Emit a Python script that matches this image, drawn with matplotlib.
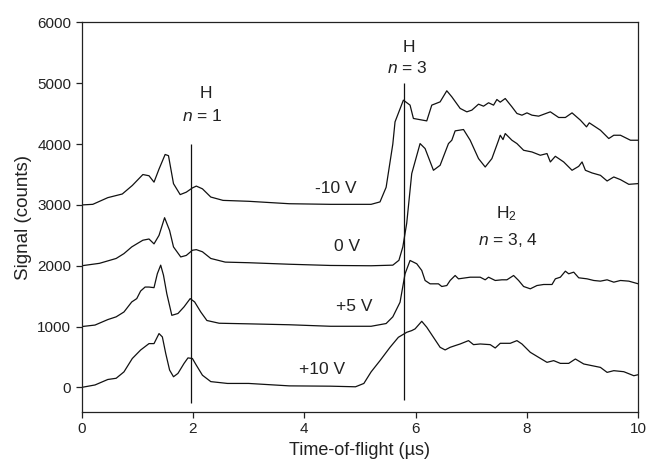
import matplotlib
matplotlib.use("Agg")
import matplotlib.pyplot as plt

plt.rcParams['font.family'] = ['Liberation Sans', 'DejaVu Sans']
plt.rcParams['mathtext.fontset'] = 'custom'
plt.rcParams['mathtext.rm'] = 'Liberation Sans'
plt.rcParams['mathtext.it'] = 'Liberation Sans:italic'

# -10 V trace (offset 3000)
t_m10 = [0, 0.2, 0.47, 0.73, 0.91, 1.1, 1.21, 1.3, 1.39, 1.5, 1.56, 1.65, 1.77, 1.88, 1.99, 2.06,
         2.17, 2.32, 2.54, 3.0, 3.73, 4.47, 5.2, 5.36, 5.47, 5.59, 5.63, 5.78, 5.90, 5.96, 6.20,
         6.29, 6.44, 6.56, 6.65, 6.80, 6.92, 7.01, 7.13, 7.22, 7.31, 7.40, 7.46, 7.52, 7.61, 7.73,
         7.82, 7.91, 8.0, 8.09, 8.21, 8.42, 8.57, 8.69, 8.81, 8.96, 9.07, 9.12, 9.32, 9.47, 9.56,
         9.68, 9.86, 10.0]
s_m10 = [3000, 3010, 3120, 3180, 3320, 3500, 3480, 3375, 3590, 3830, 3810, 3350, 3170, 3210, 3280, 3310,
         3265, 3130, 3075, 3060, 3020, 3010, 3010, 3050, 3290, 4000, 4366, 4723, 4641, 4422, 4382,
         4641, 4695, 4877, 4778, 4587, 4531, 4559, 4657, 4624, 4680, 4641, 4734, 4690, 4750, 4613,
         4504, 4476, 4514, 4476, 4460, 4531, 4438, 4438, 4514, 4394, 4284, 4350, 4229, 4092, 4146,
         4146, 4064, 4064]

# 0 V trace (offset 2000)
t_0 = [0, 0.32, 0.62, 0.76, 0.9, 0.99, 1.1, 1.21, 1.3, 1.39, 1.49, 1.58, 1.65, 1.78, 1.88, 1.99, 2.06,
       2.17, 2.32, 2.58, 3.0, 3.73, 4.47, 5.2, 5.59, 5.7, 5.77, 5.84, 5.93, 6.08, 6.17, 6.32, 6.44,
       6.59, 6.65, 6.71, 6.86, 6.98, 7.13, 7.25, 7.37, 7.49, 7.52, 7.57, 7.61, 7.73, 7.82, 7.94,
       8.09, 8.24, 8.36, 8.42, 8.51, 8.66, 8.81, 8.93, 8.99, 9.05, 9.17, 9.32, 9.44, 9.56, 9.68,
       9.83, 10.0]
s_0 = [2000, 2040, 2120, 2200, 2310, 2360, 2420, 2440, 2360, 2500, 2790, 2580, 2310, 2145, 2170, 2255, 2265,
       2230, 2120, 2060, 2050, 2025, 2005, 2000, 2010, 2090, 2310, 2700, 3515, 4009, 3927, 3570, 3652,
       4009, 4064, 4218, 4240, 4064, 3762, 3624, 3762, 4064, 4146, 4075, 4174, 4064, 4009, 3899,
       3871, 3817, 3845, 3707, 3800, 3707, 3570, 3635, 3707, 3570, 3526, 3487, 3394, 3460, 3416,
       3339, 3351]

# +5 V trace (offset 1000)
t_p5 = [0, 0.24, 0.47, 0.62, 0.76, 0.9, 0.99, 1.06, 1.14, 1.21, 1.3, 1.36, 1.42, 1.47, 1.53, 1.62, 1.73,
        1.84, 1.95, 2.03, 2.14, 2.25, 2.47, 3.0, 3.73, 4.47, 5.2, 5.47, 5.59, 5.72, 5.81, 5.90, 6.02,
        6.11, 6.17, 6.26, 6.41, 6.47, 6.56, 6.62, 6.71, 6.77, 6.98, 7.16, 7.25, 7.31, 7.43, 7.55,
        7.64, 7.76, 7.85, 7.94, 8.06, 8.18, 8.30, 8.45, 8.51, 8.60, 8.69, 8.75, 8.84, 8.93, 9.08,
        9.20, 9.32, 9.44, 9.56, 9.68, 9.83, 10.0]
s_p5 = [1000, 1025, 1115, 1160, 1240, 1405, 1460, 1585, 1650, 1650, 1640, 1870, 2010, 1845, 1540, 1185, 1215,
        1325, 1460, 1405, 1240, 1100, 1055, 1045, 1030, 1005, 1005, 1050, 1160, 1400, 1868, 2087, 2033,
        1923, 1758, 1703, 1703, 1659, 1675, 1758, 1840, 1785, 1812, 1812, 1769, 1812, 1758, 1769,
        1769, 1840, 1758, 1659, 1621, 1675, 1692, 1692, 1785, 1812, 1911, 1868, 1895, 1802, 1785,
        1758, 1747, 1769, 1730, 1758, 1747, 1703]

# +10 V trace (offset 0)
t_p10 = [0, 0.24, 0.47, 0.62, 0.76, 0.91, 1.06, 1.21, 1.3, 1.39, 1.45, 1.51, 1.58, 1.65, 1.73, 1.84, 1.91,
         1.99, 2.06, 2.17, 2.32, 2.62, 3.0, 3.73, 4.47, 4.92, 5.07, 5.2, 5.36, 5.54, 5.69, 5.84, 5.93,
         5.99, 6.11, 6.20, 6.32, 6.44, 6.53, 6.62, 6.71, 6.80, 6.95, 7.04, 7.16, 7.34, 7.43, 7.52,
         7.70, 7.82, 7.91, 8.06, 8.21, 8.36, 8.48, 8.60, 8.75, 8.87, 9.02, 9.17, 9.32, 9.44, 9.56,
         9.74, 9.92, 10.0]
s_p10 = [0, 40, 130, 150, 255, 475, 615, 720, 720, 885, 830, 560, 285, 175, 230, 395, 485,
         475, 365, 200, 95, 65, 65, 25, 20, 10, 65, 255, 440, 659, 824, 906, 934,
         962, 1087, 989, 824, 659, 616, 659, 687, 714, 769, 703, 714, 703, 648, 725,
         725, 769, 714, 577, 494, 412, 440, 395, 395, 467, 385, 357, 329, 247, 275,
         258, 192, 209]

line_labels = ["-10 V", "0 V", "+5 V", "+10 V"]
label_x = [4.56, 4.76, 4.9, 4.32]
label_y = [3265, 2310, 1325, 295]

marker_x = [1.966, 5.80]
marker_ymin = [-250, -200]
marker_ymax = [4000, 5000]

xticks = [0, 2, 4, 6, 8, 10]
yticks = [0, 1000, 2000, 3000, 4000, 5000, 6000]

tc = '#222222'
fs = 12.5
fig = plt.figure(figsize=(6.48, 4.59), dpi=100)
ax = fig.add_axes([0.126, 0.103, 0.859, 0.848])

for t, s in [(t_m10, s_m10), (t_0, s_0), (t_p5, s_p5), (t_p10, s_p10)]:
    ax.plot(t, s, color='#111111', lw=0.9)

for x, y0, y1 in zip(marker_x, marker_ymin, marker_ymax):
    ax.vlines(x, y0, y1, color='#111111', lw=0.9)

for lab, x, y in zip(line_labels, label_x, label_y):
    ax.text(x, y, lab, fontsize=fs, color=tc, ha='center', va='center')

ax.text(2.23, 4825, "H", fontsize=fs, color=tc, ha='center', va='center')
ax.text(2.17, 4470, "$n$ = 1", fontsize=fs, color=tc, ha='center', va='center')
ax.text(5.87, 5590, "H", fontsize=fs, color=tc, ha='center', va='center')
ax.text(5.85, 5245, "$n$ = 3", fontsize=fs, color=tc, ha='center', va='center')
ax.text(7.63, 2855, "H$_2$", fontsize=fs, color=tc, ha='center', va='center')
ax.text(7.65, 2430, "$n$ = 3, 4", fontsize=fs, color=tc, ha='center', va='center')

ax.set_xlim(0, 10)
ax.set_ylim(-400, 6000)
ax.set_xticks(xticks)
ax.set_yticks(yticks)
for sp in ['left', 'right', 'bottom', 'top']:
    ax.spines[sp].set_color('#222222')
    ax.spines[sp].set_linewidth(0.9)
ax.tick_params(direction='out', length=4, width=0.9, colors='#222222', labelsize=11, labelcolor=tc)
ax.set_xlabel("Time-of-flight (µs)", fontsize=13, color=tc, labelpad=4)
ax.set_ylabel("Signal (counts)", fontsize=13.5, color=tc, labelpad=4)

fig.savefig("out.png", dpi=100)
